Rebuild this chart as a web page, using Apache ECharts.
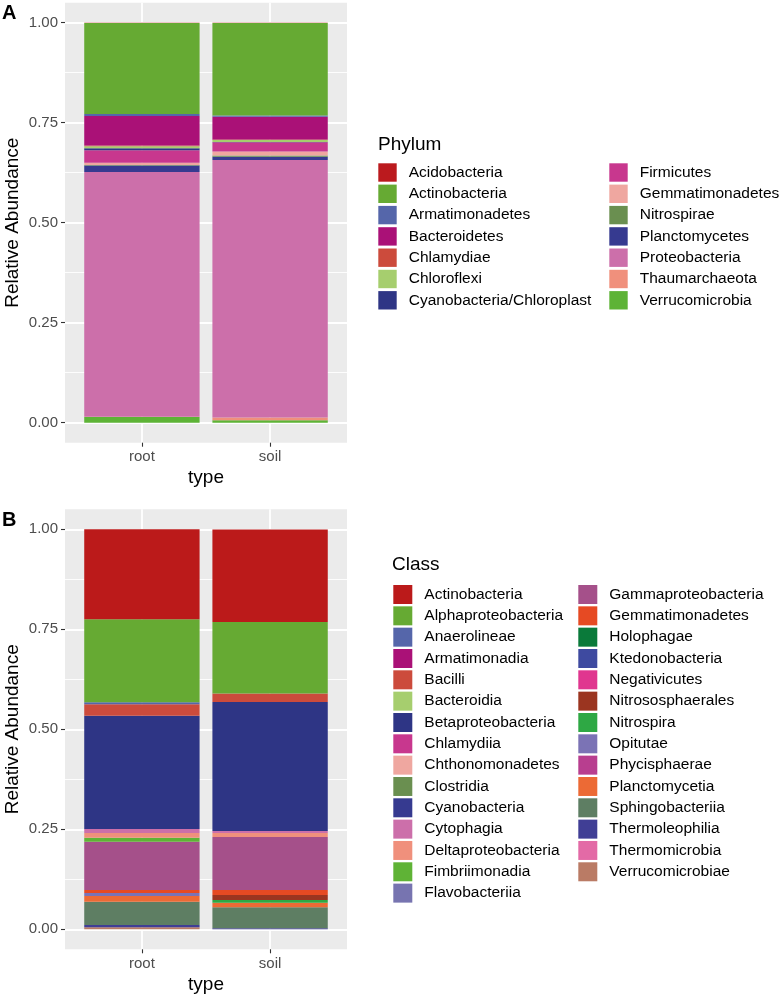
<!DOCTYPE html>
<html>
<head>
<meta charset="utf-8">
<script src="https://cdn.jsdelivr.net/npm/echarts@6/dist/echarts.min.js"></script>
<style>
  html, body { margin: 0; padding: 0; background: #fff; }
  #chart { width: 782px; height: 999px; }
</style>
</head>
<body>
<div id="chart"></div>
<script>
// sample types on the x axis
const types = ['root', 'soil'];

// panel A : phylum
const phylumNames = ['Acidobacteria', 'Actinobacteria', 'Armatimonadetes', 'Bacteroidetes', 'Chlamydiae',
  'Chloroflexi', 'Cyanobacteria/Chloroplast', 'Firmicutes', 'Gemmatimonadetes', 'Nitrospirae',
  'Planctomycetes', 'Proteobacteria', 'Thaumarchaeota', 'Verrucomicrobia'];
const phylumRoot = [0.0005, 0.2275, 0.005, 0.074, 0.002, 0.005, 0.005, 0.031, 0.006, 0.001, 0.016, 0.612, 0.001, 0.014];
const phylumSoil = [0.0005, 0.2315, 0.003, 0.057, 0.001, 0.005, 0.001, 0.023, 0.010, 0.003, 0.008, 0.644, 0.007, 0.006];
const phylumColors = ['#BB1A1E', '#66AA33', '#5566AA', '#AA1177', '#CC4B3C', '#A6CE6E', '#2E3585',
  '#C8378E', '#EFA7A0', '#6A8F50', '#363A90', '#CC6FAA', '#F0907C', '#5DB336'];

// panel B : class
const classNames = ['Actinobacteria', 'Alphaproteobacteria', 'Anaerolineae', 'Armatimonadia', 'Bacilli',
  'Bacteroidia', 'Betaproteobacteria', 'Chlamydiia', 'Chthonomonadetes', 'Clostridia', 'Cyanobacteria',
  'Cytophagia', 'Deltaproteobacteria', 'Fimbriimonadia', 'Flavobacteriia', 'Gammaproteobacteria',
  'Gemmatimonadetes', 'Holophagae', 'Ktedonobacteria', 'Negativicutes', 'Nitrososphaerales', 'Nitrospira',
  'Opitutae', 'Phycisphaerae', 'Planctomycetia', 'Sphingobacteriia', 'Thermoleophilia', 'Thermomicrobia',
  'Verrucomicrobiae'];
const classRoot = [0.225, 0.2075, 0.005, 0, 0.0285, 0, 0.283, 0, 0, 0, 0, 0.010, 0.012, 0.010, 0,
  0.121, 0.007, 0, 0, 0, 0, 0, 0.008, 0, 0.014, 0.058, 0.006, 0, 0.005];
const classSoil = [0.231, 0.179, 0, 0, 0.021, 0, 0.323, 0, 0, 0, 0, 0.005, 0.010, 0, 0,
  0.1325, 0.0125, 0, 0, 0, 0.0125, 0.0065, 0, 0, 0.0115, 0.0525, 0.0025, 0, 0];
const classColors = ['#BB1A1A', '#66AA33', '#5566AA', '#AA1177', '#CC4B3C', '#A6CE6E', '#2E3585',
  '#C8378E', '#EFA7A0', '#6A8F50', '#363A90', '#CC6FAA', '#F0907C', '#5FB336', '#7774B0',
  '#A5508A', '#E64A23', '#0A7A3A', '#3E4AA0', '#E0368F', '#9B3520', '#2EA844', '#7B73B5',
  '#B83E8F', '#EC6A35', '#5E7E63', '#403E95', '#E36AA6', '#BA7B65'];

const FONT = '"Liberation Sans", Arial, sans-serif';
const PANEL_LEFT = 65;
const PANEL_WIDTH = 282;
const UNIT = PANEL_WIDTH / 2.2;           // ggplot discrete axis spans 0.4 .. 2.6
const BAR_WIDTH = 0.9 * UNIT;
const panelTops = [2.7, 509.3];

const chart = echarts.init(document.getElementById('chart'));

// ggplot stacks the first level on top, echarts stacks the first series at the bottom
function buildSeries(prefix, names, rootVals, soilVals, colors, axisIndex) {
  const out = [];
  for (let i = names.length - 1; i >= 0; i--) {
    out.push({
      type: 'bar',
      name: prefix + '|' + names[i],
      stack: prefix,
      xAxisIndex: axisIndex,
      yAxisIndex: axisIndex,
      barWidth: BAR_WIDTH,
      itemStyle: { color: colors[i] },
      silent: true,
      data: [rootVals[i], soilVals[i]]
    });
  }
  return out;
}

// grid holding the y scale, labels and horizontal grid lines
function scaleAxes(gridIndex) {
  return {
    x: { type: 'value', gridIndex: gridIndex, min: 0, max: 1, show: false },
    y: {
      type: 'value', gridIndex: gridIndex, min: 0, max: 1, interval: 0.25,
      axisLine: { show: false },
      axisTick: { show: true, length: 4, lineStyle: { color: '#333', width: 1.1 } },
      axisLabel: { margin: 7, fontSize: 15, color: '#4D4D4D', fontFamily: FONT,
        formatter: v => v.toFixed(2) },
      splitLine: { show: true, lineStyle: { color: '#fff', width: 1.8 } },
      minorTick: { show: false, splitNumber: 2 },
      minorSplitLine: { show: true, lineStyle: { color: '#fff', width: 0.9 } },
      name: 'Relative Abundance', nameLocation: 'middle', nameGap: 43,
      nameTextStyle: { fontSize: 19, color: '#000', fontFamily: FONT }
    }
  };
}

// grid holding the type labels and vertical grid lines
function typeAxes(gridIndex) {
  return {
    x: {
      type: 'category', gridIndex: gridIndex, data: types, boundaryGap: false,
      axisLine: { show: false },
      axisTick: { show: true, length: 4, lineStyle: { color: '#333', width: 1.1 } },
      axisLabel: { margin: 7, fontSize: 15, color: '#4D4D4D', fontFamily: FONT },
      splitLine: { show: true, lineStyle: { color: '#fff', width: 1.8 } },
      name: 'type', nameLocation: 'middle', nameGap: 26,
      nameTextStyle: { fontSize: 19, color: '#000', fontFamily: FONT }
    },
    y: { type: 'value', gridIndex: gridIndex, show: false }
  };
}

// grid holding the bars
function barAxes(gridIndex) {
  return {
    x: { type: 'category', gridIndex: gridIndex, data: types, show: false },
    y: { type: 'value', gridIndex: gridIndex, min: 0, max: 1, show: false }
  };
}

function legendCol(prefix, names, left, top, size, gap) {
  return {
    data: names.map(n => prefix + '|' + n),
    orient: 'vertical', left: left, top: top, padding: 0,
    icon: 'rect', itemWidth: size, itemHeight: size, itemGap: gap,
    selectedMode: false,
    formatter: name => name.slice(2),
    textStyle: { fontSize: 15.5, color: '#000', fontFamily: FONT, padding: [0, 0, 0, 7] }
  };
}

const axes = [scaleAxes(0), typeAxes(1), barAxes(2), scaleAxes(3), typeAxes(4), barAxes(5)];

const grids = [];
panelTops.forEach(t => {
  grids.push({ left: PANEL_LEFT, width: PANEL_WIDTH, top: t + 20, height: 400 });
  grids.push({ left: PANEL_LEFT + 0.6 * UNIT, width: UNIT, top: t, height: 440 });
  grids.push({ left: PANEL_LEFT + 0.1 * UNIT, width: 2 * UNIT, top: t + 20, height: 400 });
});

const option = {
  animation: false,
  backgroundColor: '#fff',
  grid: grids,
  xAxis: axes.map(a => a.x),
  yAxis: axes.map(a => a.y),
  graphic: panelTops.map(t => ({
    type: 'rect', z: -100, silent: true,
    shape: { x: PANEL_LEFT, y: t, width: PANEL_WIDTH, height: 440 },
    style: { fill: '#EBEBEB' }
  })),
  title: [
    { text: 'A', left: 2, top: 3, padding: 0, textStyle: { fontSize: 20, fontWeight: 'bold', color: '#000', fontFamily: FONT } },
    { text: 'B', left: 2, top: 510, padding: 0, textStyle: { fontSize: 20, fontWeight: 'bold', color: '#000', fontFamily: FONT } },
    { text: 'Phylum', left: 378, top: 135, padding: 0, textStyle: { fontSize: 19, fontWeight: 'normal', color: '#000', fontFamily: FONT } },
    { text: 'Class', left: 392, top: 555, padding: 0, textStyle: { fontSize: 19, fontWeight: 'normal', color: '#000', fontFamily: FONT } }
  ],
  legend: [
    legendCol('A', phylumNames.slice(0, 7), 378.3, 163.3, 18.4, 2.9),
    legendCol('A', phylumNames.slice(7), 609.3, 163.3, 18.4, 2.9),
    legendCol('B', classNames.slice(0, 15), 393.3, 585, 19, 2.33),
    legendCol('B', classNames.slice(15), 578.3, 585, 19, 2.33)
  ],
  series: [
    ...buildSeries('A', phylumNames, phylumRoot, phylumSoil, phylumColors, 2),
    ...buildSeries('B', classNames, classRoot, classSoil, classColors, 5)
  ]
};

chart.setOption(option);
</script>
</body>
</html>
